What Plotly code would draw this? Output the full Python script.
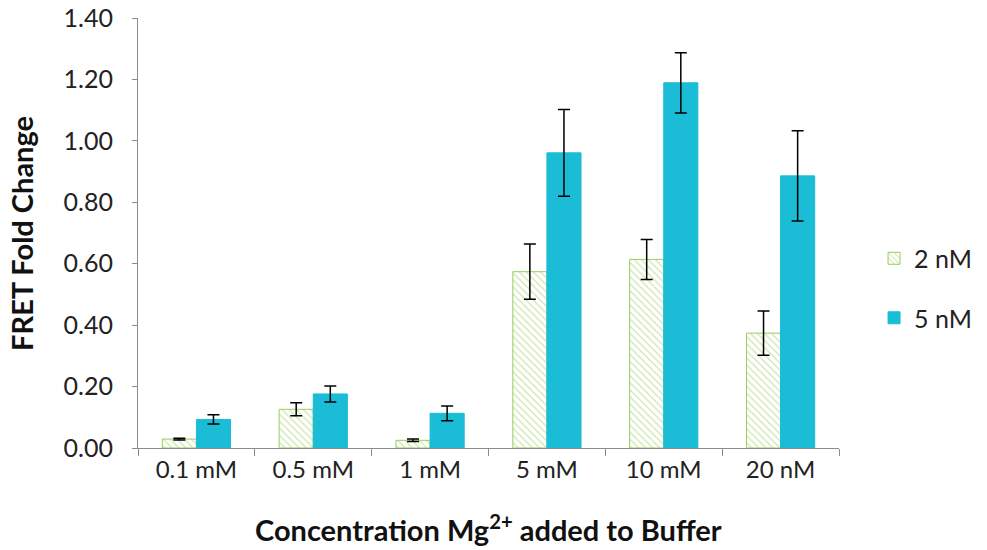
import plotly.graph_objects as go

categories = ["0.1 mM", "0.5 mM", "1 mM", "5 mM", "10 mM", "20 nM"]
series_names = ["2 nM", "5 nM"]
values_2nM = [0.029, 0.126, 0.025, 0.574, 0.614, 0.374]
errors_2nM = [0.003, 0.021, 0.004, 0.090, 0.065, 0.072]
values_5nM = [0.093, 0.176, 0.113, 0.961, 1.189, 0.886]
errors_5nM = [0.015, 0.026, 0.024, 0.141, 0.098, 0.147]
y_ticks = [0, 0.2, 0.4, 0.6, 0.8, 1.0, 1.2, 1.4]
x_title = "<b>Concentration Mg<sup>2+</sup> added to Buffer</b>"
y_title = "<b>FRET Fold Change</b>"

green = "#9ACD5E"
blue = "#1ABCD6"
font_family = "Lato, 'Open Sans', sans-serif"

fig = go.Figure()
fig.add_trace(go.Bar(
    x=categories, y=values_2nM, name=series_names[0], legendgroup="a",
    marker=dict(color="white", line=dict(color=green, width=1),
                pattern=dict(shape="\\", fgcolor=green, bgcolor="white",
                             size=5, solidity=0.25, fillmode="overlay")),
    error_y=dict(type="data", array=errors_2nM, visible=True,
                 color="black", thickness=1.5, width=6),
))
fig.add_trace(go.Bar(
    x=categories, y=values_5nM, name=series_names[1], legendgroup="b",
    marker=dict(color=blue, line=dict(color=blue, width=1)),
    error_y=dict(type="data", array=errors_5nM, visible=True,
                 color="black", thickness=1.5, width=6),
))

fig.update_layout(
    width=987, height=550,
    margin=dict(l=138, r=148, t=18, b=102, autoexpand=False),
    paper_bgcolor="white", plot_bgcolor="white",
    barmode="group", bargap=0.416, bargroupgap=0,
    font=dict(family=font_family, size=24, color="#222222"),
    showlegend=True,
    legend=dict(x=1.05, y=0.372, xanchor="left", yanchor="middle",
                font=dict(size=25, color="#222222"),
                tracegroupgap=24, bgcolor="rgba(0,0,0,0)"),
    xaxis=dict(
        automargin=False,
        showline=True, linecolor="#8c8c8c", linewidth=1,
        ticks="outside", tickson="boundaries", ticklen=7, tickcolor="#8c8c8c",
        showgrid=False, tickfont=dict(size=24),
    ),
    yaxis=dict(
        automargin=False,
        range=[0, 1.4], tickvals=y_ticks, tickformat=".2f",
        showline=True, linecolor="#8c8c8c", linewidth=1,
        ticks="outside", ticklen=5, tickcolor="#8c8c8c",
        ticklabelstandoff=14,
        showgrid=False, zeroline=False, tickfont=dict(size=25),
    ),
    annotations=[
        dict(text=x_title, xref="paper", yref="paper", x=0.5, y=-0.186,
             xanchor="center", yanchor="middle", showarrow=False,
             font=dict(size=29, color="#111111")),
        dict(text=y_title, xref="paper", yref="paper", x=-0.167, y=0.5,
             xanchor="center", yanchor="middle", textangle=-90, showarrow=False,
             font=dict(size=29, color="#111111")),
    ],
)

fig.write_html("out.html")
